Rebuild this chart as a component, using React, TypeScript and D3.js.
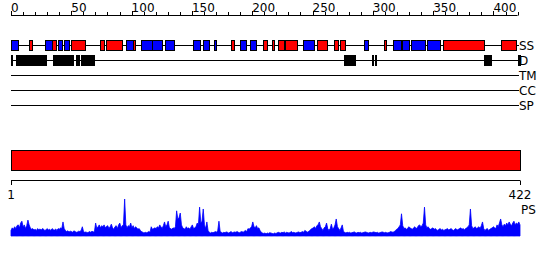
import React from "react";
import * as d3 from "d3";

const SEQ_LEN = 422;
const topTicks = d3.range(0, 421, 10);
const topLabels = [0, 50, 100, 150, 200, 250, 300, 350, 400];
const trackLabels = ["SS", "D", "TM", "CC", "SP"];

// secondary structure: [start, end, type] H = helix (red), E = strand (blue)
const ssStart = [1, 16, 29, 35, 40, 45, 51, 75, 80, 96, 102, 109, 118, 129, 152, 160, 169, 183, 191, 199, 210, 217, 222, 228, 243, 255, 269, 274, 294, 310, 318, 325, 333, 346, 359, 407];
const ssEnd = [6, 17, 34, 37, 42, 48, 61, 77, 92, 101, 103, 117, 125, 135, 157, 164, 170, 185, 195, 203, 212, 218, 226, 237, 251, 262, 271, 277, 296, 311, 323, 330, 343, 356, 392, 419];
const ssType = ["E", "H", "E", "H", "E", "E", "H", "H", "H", "E", "H", "E", "E", "E", "E", "E", "E", "H", "E", "E", "H", "H", "H", "H", "E", "H", "H", "H", "E", "H", "E", "E", "E", "E", "H", "H"];

// disordered regions
const disStart = [1, 5, 36, 55, 59, 277, 283, 300, 303, 393, 421];
const disEnd = [1, 29, 51, 56, 69, 281, 285, 300, 303, 398, 422];

// per-residue profile (PS)
const profile = [
  0.15,0.22,0.18,0.25,0.2,0.28,0.3,0.22,0.35,0.4,0.25,0.3,0.2,0.28,0.43,0.3,0.22,0.18,0.2,0.16,
  0.18,0.15,0.2,0.17,0.19,0.16,0.2,0.18,0.15,0.17,0.2,0.16,0.18,0.15,0.2,0.17,0.16,0.19,0.15,0.2,
  0.18,0.22,0.2,0.38,0.2,0.15,0.12,0.14,0.11,0.13,0.12,0.1,0.14,0.12,0.1,0.11,0.13,0.12,0.15,0.25,
  0.12,0.1,0.11,0.09,0.1,0.12,0.1,0.13,0.11,0.12,0.35,0.2,0.25,0.3,0.22,0.28,0.25,0.3,0.22,0.26,
  0.28,0.2,0.25,0.32,0.22,0.18,0.25,0.28,0.2,0.3,0.35,0.22,0.28,0.3,1.0,0.3,0.22,0.28,0.25,0.35,
  0.22,0.28,0.2,0.25,0.22,0.18,0.2,0.15,0.12,0.1,0.08,0.1,0.09,0.1,0.12,0.1,0.25,0.18,0.2,0.22,
  0.2,0.25,0.22,0.3,0.25,0.2,0.28,0.38,0.25,0.3,0.4,0.22,0.2,0.18,0.22,0.2,0.25,0.68,0.45,0.5,
  0.62,0.3,0.22,0.2,0.18,0.25,0.2,0.22,0.18,0.25,0.3,0.2,0.22,0.25,0.35,0.3,0.78,0.35,0.4,0.73,
  0.3,0.2,0.38,0.15,0.1,0.08,0.1,0.09,0.1,0.12,0.1,0.15,0.4,0.12,0.1,0.08,0.1,0.09,0.11,0.1,
  0.08,0.1,0.12,0.09,0.1,0.11,0.1,0.12,0.1,0.09,0.11,0.12,0.1,0.13,0.15,0.12,0.2,0.18,0.22,0.25,
  0.38,0.25,0.22,0.28,0.2,0.22,0.15,0.1,0.08,0.07,0.08,0.06,0.08,0.07,0.09,0.08,0.07,0.06,0.08,0.07,
  0.08,0.1,0.09,0.08,0.1,0.09,0.11,0.08,0.1,0.09,0.08,0.1,0.12,0.09,0.1,0.08,0.09,0.1,0.11,0.09,
  0.1,0.12,0.1,0.15,0.13,0.1,0.12,0.14,0.18,0.2,0.22,0.25,0.2,0.28,0.3,0.38,0.25,0.2,0.15,0.22,
  0.25,0.35,0.2,0.15,0.2,0.32,0.18,0.22,0.3,0.46,0.25,0.2,0.15,0.22,0.3,0.12,0.1,0.08,0.1,0.09,
  0.1,0.08,0.09,0.1,0.11,0.09,0.08,0.1,0.09,0.1,0.08,0.09,0.1,0.11,0.1,0.09,0.08,0.1,0.09,0.1,
  0.11,0.1,0.09,0.1,0.08,0.09,0.1,0.11,0.1,0.09,0.1,0.08,0.09,0.1,0.12,0.11,0.1,0.12,0.15,0.18,
  0.2,0.25,0.3,0.6,0.28,0.2,0.22,0.18,0.2,0.25,0.22,0.2,0.18,0.22,0.25,0.2,0.22,0.28,0.3,0.25,
  0.28,0.35,0.78,0.3,0.22,0.25,0.2,0.18,0.2,0.22,0.18,0.2,0.17,0.15,0.18,0.2,0.16,0.18,0.15,0.17,
  0.18,0.2,0.16,0.18,0.2,0.17,0.15,0.18,0.2,0.16,0.18,0.2,0.22,0.18,0.2,0.17,0.2,0.22,0.25,0.3,
  0.73,0.28,0.2,0.22,0.25,0.2,0.22,0.25,0.2,0.28,0.38,0.2,0.15,0.18,0.2,0.15,0.18,0.2,0.22,0.25,
  0.22,0.2,0.3,0.25,0.35,0.46,0.3,0.25,0.32,0.28,0.35,0.3,0.38,0.32,0.28,0.35,0.4,0.3,0.35,0.32,0.38,0.3,
];

const FONT = "DejaVu Sans, sans-serif";

export default function App() {
  const xf = d3.scaleLinear().domain([0, SEQ_LEN]).range([11, 520]);
  const xr = d3.scaleLinear().domain([1, SEQ_LEN]).range([11, 520]);
  const yp = d3.scaleLinear().domain([0, 1]).range([236, 199]);
  const trackY = d3.scalePoint<string>().domain(trackLabels).range([45, 105]);

  const area = d3
    .area<number>()
    .x((_, i) => xr(i + 1))
    .y0(yp(0))
    .y1((d) => yp(d))
    .curve(d3.curveLinear);

  const segX = (s: number, e: number) => {
    const x0 = Math.round(xf(s - 1)) + 0.5;
    const x1 = Math.round(xf(e)) + 0.5;
    return { x: x0, w: Math.max(1, x1 - x0) };
  };

  return (
    <svg width={550} height={260} style={{ position: "absolute", left: 0, top: 0, background: "#fff" }}>
      {/* top axis */}
      <line x1={xf(0)} x2={xf(420)} y1={15.5} y2={15.5} stroke="#000" />
      {topTicks.map((t) => {
        const major = topLabels.includes(t);
        const x = Math.round(xf(t)) + 0.5;
        return <line key={t} x1={x} x2={x} y1={major ? 11 : 12} y2={15.5} stroke="#000" />;
      })}
      {topLabels.map((t) => (
        <text key={t} x={xf(t)} y={12} fontFamily={FONT} fontSize={12} textAnchor="start" fill="#000">
          {t}
        </text>
      ))}

      {/* track lines */}
      {trackLabels.map((l) => {
        const y = Math.round(trackY(l)!) + 0.5;
        return (
          <g key={l}>
            <line x1={xf(0)} x2={xf(SEQ_LEN) - 1} y1={y} y2={y} stroke="#000" />
            <text x={519} y={y + 4.5} fontFamily={FONT} fontSize={12} fill="#000">
              {l}
            </text>
          </g>
        );
      })}

      {/* SS */}
      {ssStart.map((s, i) => {
        const { x, w } = segX(s, ssEnd[i]);
        const y = Math.round(trackY("SS")!) + 0.5;
        return (
          <rect key={i} x={x} y={y - 5} width={w} height={10}
            fill={ssType[i] === "H" ? "#ff0000" : "#0000ff"} stroke="#000" shapeRendering="crispEdges" />
        );
      })}

      {/* D */}
      {disStart.map((s, i) => {
        const { x, w } = segX(s, disEnd[i]);
        const y = Math.round(trackY("D")!) + 0.5;
        return (
          <rect key={i} x={x} y={y - 5} width={w} height={10} fill="#000" stroke="#000" shapeRendering="crispEdges" />
        );
      })}

      {/* red bar */}
      <rect x={xf(0) + 0.5} y={150.5} width={xf(SEQ_LEN) - xf(0)} height={20} fill="#ff0000" stroke="#000" shapeRendering="crispEdges" />

      {/* bottom axis */}
      <line x1={xr(1)} x2={xr(SEQ_LEN)} y1={180.5} y2={180.5} stroke="#000" />
      {[1, SEQ_LEN].map((t) => (
        <g key={t}>
          <line x1={Math.round(xr(t)) + 0.5} x2={Math.round(xr(t)) + 0.5} y1={180.5} y2={185} stroke="#000" />
          <text x={xr(t)} y={199} fontFamily={FONT} fontSize={12} textAnchor="middle" fill="#000">
            {t}
          </text>
        </g>
      ))}
      <text x={521} y={214} fontFamily={FONT} fontSize={12} fill="#000">PS</text>

      {/* profile */}
      <path d={area(profile)!} fill="#0000ff" stroke="#0000ff" strokeWidth={0.8} />
    </svg>
  );
}
